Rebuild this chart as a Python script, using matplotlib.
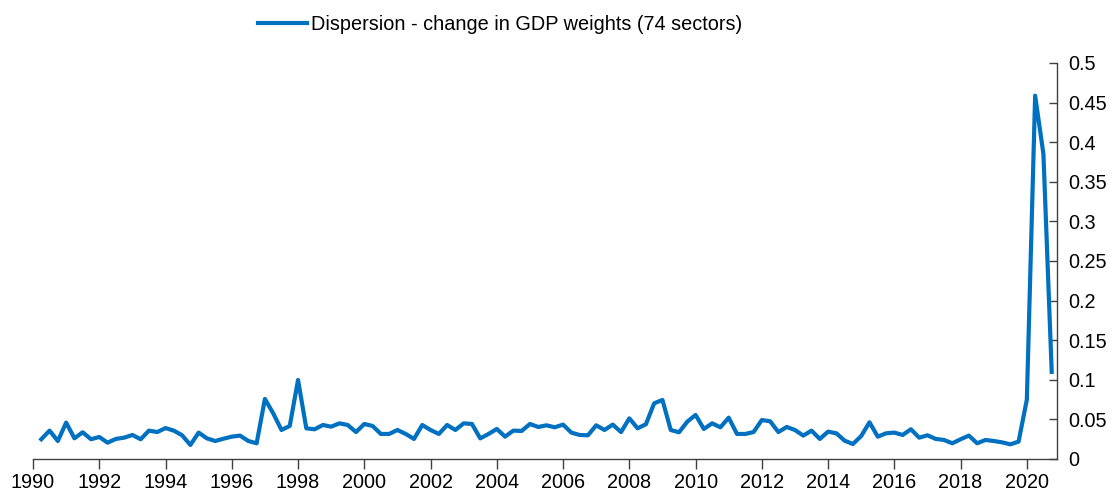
import numpy as np
import matplotlib
matplotlib.use("Agg")
import matplotlib.pyplot as plt

plt.rcParams["font.family"] = ["Liberation Sans", "DejaVu Sans"]

# =========================
# Data: quarterly, 1990 Q2 .. 2020 Q4
# =========================
start_year = 1990.25
dispersion = [
    # 1990.25 - 1995.0
    0.0249, 0.0358, 0.0227, 0.0459, 0.0261, 0.0337, 0.0249, 0.0278, 0.0206, 0.0253,
    0.0269, 0.0303, 0.0249, 0.0358, 0.0340, 0.0390, 0.0358, 0.0299, 0.0177, 0.0333,
    # 1995.25 - 2000.0
    0.0260, 0.0227, 0.0256, 0.0282, 0.0295, 0.0227, 0.0198, 0.0758, 0.0577, 0.0366,
    0.0417, 0.0997, 0.0387, 0.0375, 0.0429, 0.0408, 0.0450, 0.0429, 0.0340, 0.0442,
    # 2000.25 - 2005.25
    0.0417, 0.0316, 0.0316, 0.0366, 0.0316, 0.0253, 0.0429, 0.0366, 0.0316, 0.0429,
    0.0366, 0.0450, 0.0442, 0.0260, 0.0316, 0.0379, 0.0282, 0.0358, 0.0354, 0.0442,
    0.0404,
    # 2005.5 - 2010.25
    0.0425, 0.0400, 0.0434, 0.0333, 0.0303, 0.0299, 0.0425, 0.0366, 0.0434, 0.0340,
    0.0513, 0.0387, 0.0438, 0.0703, 0.0745, 0.0366, 0.0337, 0.0471, 0.0556, 0.0379,
    # 2010.5 - 2015.5
    0.0450, 0.0400, 0.0522, 0.0316, 0.0316, 0.0340, 0.0492, 0.0476, 0.0340, 0.0404,
    0.0366, 0.0295, 0.0358, 0.0253, 0.0345, 0.0324, 0.0231, 0.0189, 0.0290, 0.0463,
    0.0282,
    # 2015.75 - 2020.0
    0.0324, 0.0333, 0.0303, 0.0375, 0.0269, 0.0299, 0.0253, 0.0240, 0.0198, 0.0249,
    0.0295, 0.0198, 0.0240, 0.0227, 0.0210, 0.0185, 0.0219, 0.0750,
    # 2020.25 - 2020.75
    0.4587, 0.3850, 0.1100,
]
years = start_year + 0.25 * np.arange(len(dispersion))

x_ticks = list(range(1990, 2021, 2))
y_ticks = [0, 0.05, 0.1, 0.15, 0.2, 0.25, 0.3, 0.35, 0.4, 0.45, 0.5]
label = "Dispersion - change in GDP weights (74 sectors)"

# =========================
# Plot
# =========================
fig = plt.figure(figsize=(11.19, 4.94), dpi=100)
ax = fig.add_axes([0.0295, 0.0709, 0.9148, 0.8016])

line, = ax.plot(years, dispersion, color="#0070C0", linewidth=3, label=label)

ax.set_xlim(1990, 2020.9)
ax.set_ylim(0, 0.5)

ax.yaxis.tick_right()
ax.set_yticks(y_ticks)
ax.set_yticklabels([f"{v:g}" for v in y_ticks])
ax.set_xticks(x_ticks)

for side in ["top", "left"]:
    ax.spines[side].set_visible(False)
for side in ["bottom", "right"]:
    ax.spines[side].set_color("#404040")
    ax.spines[side].set_linewidth(1)

ax.tick_params(axis="x", direction="out", length=7, width=1, color="#404040",
               labelsize=14.3, pad=3)
ax.tick_params(axis="y", direction="in", length=6, width=1, color="#404040",
               labelsize=14.3, pad=8)

fig.legend(handles=[line], loc="center", bbox_to_anchor=(0.447, 0.951),
           frameon=False, fontsize=14.3, handlelength=2.5, handletextpad=0.2)

fig.savefig("out.png", dpi=100)
